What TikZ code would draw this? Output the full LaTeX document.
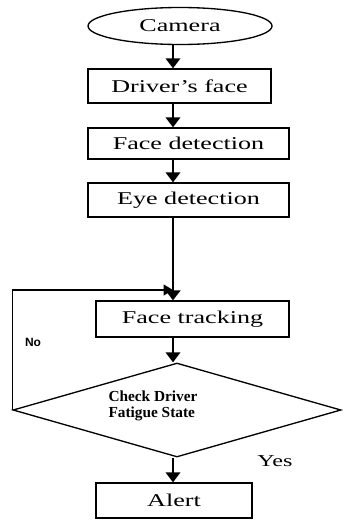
\documentclass[tikz,border=0pt]{standalone}
\usepackage{fontspec}
\setmainfont{Liberation Serif}
\newfontfamily\boxfont[FakeStretch=1.45]{Liberation Serif}
\newfontfamily\notefont{Liberation Sans}
\usetikzlibrary{arrows.meta,shapes.geometric}

\tikzset{every picture/.style={line width=0.75pt}}
\tikzset{
  stepbox/.style={draw, line width=1pt, inner sep=0pt, font=\boxfont\fontsize{13.5}{16}\selectfont},
  arr/.style={line width=1.3pt, -{Triangle[width=11pt,length=7.5pt]}}
}

\begin{document}
\begin{tikzpicture}[x=0.75pt,y=0.75pt,yscale=-1,xscale=1]
\useasboundingbox (0,0) rectangle (343,521);
\coordinate (col) at (173,0);
\coordinate (join) at (173,290);

% Start
\node [stepbox, ellipse, minimum width=138pt, minimum height=27.75pt] (camera) at (180,26) {Camera};
% Boxes
\node [stepbox, minimum width=137.25pt, minimum height=25.5pt] (face) at (179.5,86) {Driver’s face};
\node [stepbox, minimum width=150.75pt, minimum height=23.25pt] (detect) at (188.5,143.5) {Face detection};
\node [stepbox, minimum width=150.75pt, minimum height=25.5pt] (eye) at (188.5,200) {Eye detection};
\node [stepbox, minimum width=144.75pt, minimum height=27pt] (track) at (192.5,319) {Face tracking};
% Decision
\node [draw, line width=1pt, diamond, inner sep=0pt, minimum width=246pt, minimum height=70.5pt] (check) at (177,410) {};
\node [anchor=west, align=left, inner sep=0pt, font=\bfseries\fontsize{11.5}{11.5}\selectfont] (checktext) at (108,406) {Check Driver\\Fatigue State};
\node [stepbox, minimum width=117pt, minimum height=26.25pt] (alert) at (174,500.5) {Alert};

% Connectors
\draw [arr] (camera.south -| col) -- (face.north -| col);
\draw [arr] (face.south -| col) -- (detect.north -| col);
\draw [arr] (detect.south -| col) -- (eye.north -| col);
\draw [arr, line width=2.2pt] (eye.south -| col) -- (track.north -| col);
\draw [arr] (track.south -| col) -- (check.north -| col);
\draw [arr] (check.south -| col) -- (alert.north -| col);
% Loop back
\draw [line width=1.2pt, -{Triangle[width=8pt,length=7pt]}] (check.west) |- (join);

% Text Node
\node [font=\notefont\bfseries\fontsize{9}{11}\selectfont] (no) at (33,342) {No};
% Text Node
\node [font=\boxfont\fontsize{12.5}{15}\selectfont] (yes) at (275,461) {Yes};

\end{tikzpicture}
\end{document}
